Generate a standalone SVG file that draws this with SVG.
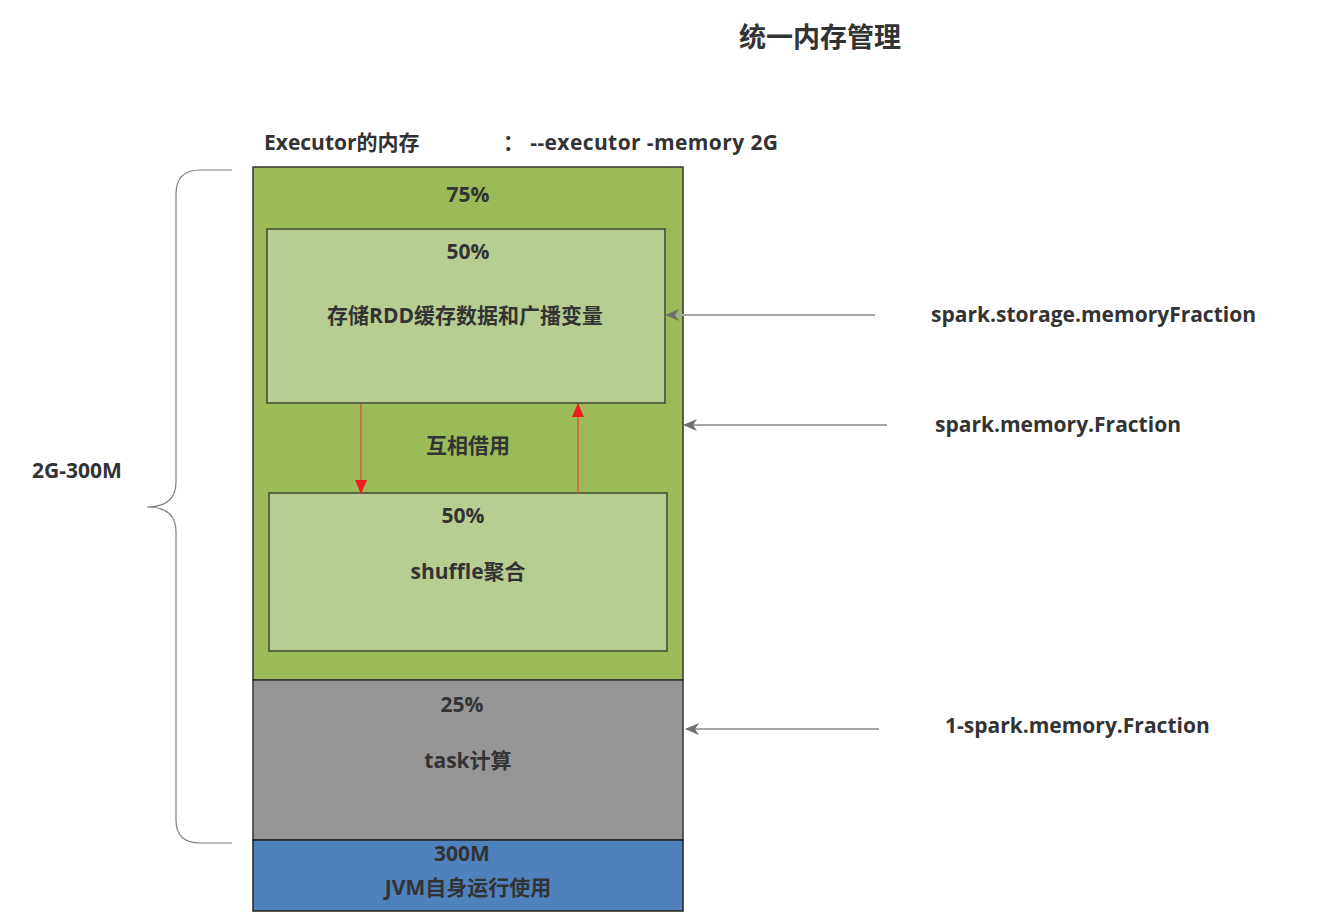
<svg xmlns="http://www.w3.org/2000/svg" width="1320" height="920" viewBox="0 0 1320 920">
<defs>
<style>
.t{font-family:"Open Sans","Noto Sans CJK SC",sans-serif;font-weight:bold;fill:#333;font-size:21px;}
.c{text-anchor:middle;}
.gray{stroke:#a6a6a6;stroke-width:2;fill:none;}
.red{stroke:#e8553a;stroke-width:1.5;fill:none;}
</style>
<marker id="ag" markerWidth="14" markerHeight="12" refX="13" refY="6" orient="auto" markerUnits="userSpaceOnUse">
<path d="M0,0 L14,6 L0,12 L4,6 Z" fill="#707070"/>
</marker>
<marker id="ar" markerWidth="14" markerHeight="12" refX="13" refY="6" orient="auto" markerUnits="userSpaceOnUse">
<path d="M0,0 L14,6 L0,12 Z" fill="#ee1c1c"/>
</marker>
</defs>
<rect width="1320" height="920" fill="#fff"/>
<text class="t c" x="820" y="47" style="font-size:27px">统一内存管理</text>
<text class="t" x="264" y="150">Executor的内存</text>
<text class="t" x="503" y="150" textLength="275" lengthAdjust="spacing">：  --executor -memory 2G</text>

<g id="brace">
<path d="M232,170 L200,170 Q176,170 176,194 L176,482 Q176,507 147,507 Q176,507 176,532 L176,820 Q176,843 200,843 L232,843" fill="none" stroke="#7f7f7f" stroke-width="1.2"/>
</g>
<text class="t" x="32" y="478">2G-300M</text>

<g id="exec75">
<rect x="253" y="167" width="430" height="513" fill="#9bbb59" stroke="#333" stroke-width="1.5"/>
<text class="t c" x="468" y="202">75%</text>
<text class="t c" x="468" y="453">互相借用</text>
</g>
<g id="storage">
<rect x="267" y="229" width="398" height="174" fill="#b8cd92" stroke="#3f4a2e" stroke-width="1.5"/>
<text class="t c" x="468" y="259">50%</text>
<text class="t c" x="465" y="323">存储RDD缓存数据和广播变量</text>
</g>
<g id="shuffle">
<rect x="269" y="493" width="398" height="158" fill="#b8cd92" stroke="#3f4a2e" stroke-width="1.5"/>
<text class="t c" x="463" y="523">50%</text>
<text class="t c" x="468" y="579">shuffle聚合</text>
</g>
<g id="task">
<rect x="253" y="680" width="430" height="160" fill="#969696" stroke="#333" stroke-width="1.5"/>
<text class="t c" x="462" y="712">25%</text>
<text class="t c" x="468" y="768">task计算</text>
</g>
<g id="jvm">
<rect x="253" y="840" width="430" height="71" fill="#4f81bd" stroke="#222" stroke-width="1.5"/>
<text class="t c" x="462" y="861">300M</text>
<text class="t c" x="468" y="895">JVM自身运行使用</text>
</g>

<g id="connectors">
<line class="red" x1="361" y1="404" x2="361" y2="493" marker-end="url(#ar)"/>
<line class="red" x1="578" y1="493" x2="578" y2="404" marker-end="url(#ar)"/>
<line class="gray" x1="875" y1="315" x2="666" y2="315" marker-end="url(#ag)"/>
<line class="gray" x1="887" y1="425" x2="684" y2="425" marker-end="url(#ag)"/>
<line class="gray" x1="879" y1="729" x2="686" y2="729" marker-end="url(#ag)"/>
</g>

<text class="t" x="931" y="322">spark.storage.memoryFraction</text>
<text class="t" x="935" y="432">spark.memory.Fraction</text>
<text class="t" x="945" y="733">1-spark.memory.Fraction</text>
</svg>
